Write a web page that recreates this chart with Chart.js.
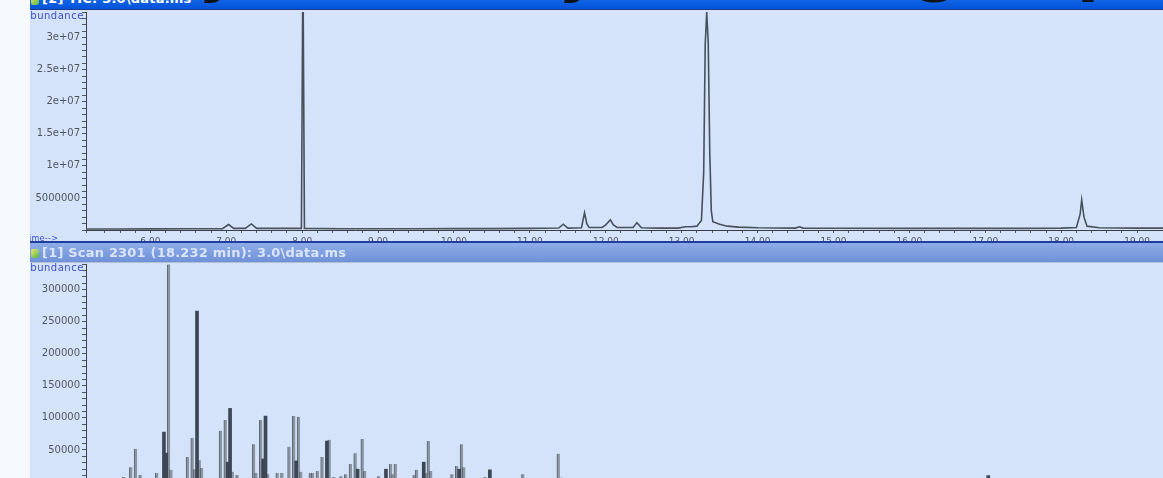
<!DOCTYPE html>
<html lang="en">
<head>
<meta charset="UTF-8" />
<title>TIC: 3.0\data.ms</title>
<script src="https://cdn.jsdelivr.net/npm/chart.js"></script>
<style>
  html, body { margin: 0; padding: 0; width: 1163px; height: 478px; overflow: hidden; background: #f7fafd; font-family: "DejaVu Sans", sans-serif; }
  .glyph { position: absolute; top: -65px; font: bold 64px/1 "DejaVu Sans", sans-serif; color: #111118; z-index: 5; }
  .titlebar { position: absolute; left: 30px; width: 1133px; font-weight: bold; font-size: 13px; letter-spacing: 0.2px; white-space: nowrap; }
  .bar1 { top: -12px; height: 21px; line-height: 21px; background: linear-gradient(#2d7cf0, #0052da); border-bottom: 1px solid #1b3d8a; color: #fff; }
  .bar2 { top: 241px; height: 19px; line-height: 19px; background: linear-gradient(#8eacE8, #6f91d8); border-top: 2px solid #1e3f9f; border-bottom: 1px solid #b4c0d4; color: #dbe5f8; }
  .titlebar span { position: absolute; left: 12px; }
  .icon { position: absolute; left: 1px; top: 6px; width: 8px; height: 9px; background: linear-gradient(135deg, #f2e36a, #4fb84a); border-radius: 2px; }
  .panel { position: absolute; left: 30px; width: 1133px; background: #d4e3fa; overflow: hidden; }
  .panel canvas { position: absolute; left: 0; }
  .axis-note { position: absolute; color: #3a4fcc; font-size: 10px; letter-spacing: 0.5px; white-space: nowrap; }
</style>
</head>
<body>
  <div class="titlebar bar1"><div class="icon" style="top:8px"></div><span>[2] TIC: 3.0\data.ms</span></div>
  <div class="glyph" style="left:198px">y</div>
  <div class="glyph" style="left:558px">y</div>
  <div class="glyph" style="left:915px">g</div>
  <div class="glyph" style="left:1077px">p</div>

  <div class="panel" style="top:10px; height:231px;">
    <canvas id="ticChart" width="1133" height="232" style="top:0"></canvas>
    <div class="axis-note" style="left:-7px; top:0px;">Abundance</div>
    <div class="axis-note" style="left:-6px; top:224px; font-size:8px; letter-spacing:0.3px;">Time--&gt;</div>
  </div>

  <div class="titlebar bar2"><div class="icon"></div><span>[1] Scan 2301 (18.232 min): 3.0\data.ms</span></div>

  <div class="panel" style="top:263px; height:215px;">
    <canvas id="scanChart" width="1133" height="222" style="top:-1px"></canvas>
    <div class="axis-note" style="left:-7px; top:-1px;">Abundance</div>
  </div>

<script>
// total ion chromatogram, retention time in minutes
const ticTime = [5.15, 5.6, 6.0, 6.5, 6.95, 7.03, 7.1, 7.25, 7.33, 7.4, 7.6, 7.99, 8.01, 8.03, 8.5, 9.0, 9.5,
  10.0, 10.5, 11.0, 11.38, 11.44, 11.5, 11.68, 11.72, 11.75, 11.78, 11.95, 12.0, 12.06, 12.1, 12.15,
  12.36, 12.41, 12.47, 12.7, 12.95, 13.05, 13.12, 13.2, 13.26, 13.29, 13.31, 13.33, 13.35, 13.37, 13.39,
  13.41, 13.5, 13.6, 13.75, 14.0, 14.5, 14.55, 14.6, 15.0, 16.0, 17.0, 17.5, 18.0, 18.2, 18.25, 18.27,
  18.3, 18.34, 18.5, 19.0, 19.34];
const ticAbundance = [1.5e5, 1.5e5, 1.8e5, 2.0e5, 2.0e5, 8.5e5, 2.5e5, 2.5e5, 9.5e5, 2.5e5, 2.5e5, 2.5e5, 4.2e7, 2.5e5, 2.0e5, 2.0e5, 2.0e5,
  2.2e5, 2.2e5, 2.5e5, 3.0e5, 9.0e5, 3.0e5, 3.5e5, 2.7e6, 1.0e6, 4.0e5, 4.0e5, 8.0e5, 1.6e6, 8.0e5, 4.0e5,
  4.0e5, 1.15e6, 3.5e5, 3.0e5, 3.0e5, 5.0e5, 5.0e5, 6.0e5, 1.5e6, 9.0e6, 2.9e7, 3.4e7, 2.9e7, 1.2e7, 3.0e6,
  1.3e6, 9.0e5, 6.0e5, 4.5e5, 3.5e5, 3.0e5, 5.0e5, 3.0e5, 2.8e5, 2.5e5, 2.5e5, 2.5e5, 3.0e5, 4.0e5, 2.5e6, 4.7e6,
  2.0e6, 6.0e5, 3.5e5, 3.0e5, 3.0e5];

const timeTickValues = [6, 7, 8, 9, 10, 11, 12, 13, 14, 15, 16, 17, 18, 19];
const timeTickText = ['6.00', '7.00', '8.00', '9.00', '10.00', '11.00', '12.00', '13.00', '14.00', '15.00', '16.00', '17.00', '18.00', '19.00'];
const ticYTickValues = [5e6, 1e7, 1.5e7, 2e7, 2.5e7, 3e7];
const ticYTickText = ['5000000', '1e+07', '1.5e+07', '2e+07', '2.5e+07', '3e+07'];

// mass spectrum of scan 2301 (18.232 min), m/z and abundance
const scanMzLight = [38, 46, 49, 51, 53, 60, 65, 66, 73, 75, 76, 78, 79, 87, 89, 92, 94, 101, 102, 104, 107, 111, 113,
  116, 118, 120, 121, 125, 126, 128, 130, 133, 135, 138, 140, 142, 144, 147, 148, 154, 159, 160, 161, 163, 169, 170,
  174, 175, 176, 185, 187, 189, 190, 199, 202, 205, 213, 215, 216, 227, 230, 256, 286, 368, 396];
const scanAbundanceLight = [3000, 8000, 23000, 52000, 11000, 14000, 340000, 19000, 39000, 69000, 20000, 34000, 22000,
  80000, 97000, 16000, 11000, 59000, 14000, 97000, 12000, 14000, 14000, 55000, 103000, 102000, 16000, 14000, 14000,
  17000, 39000, 66000, 8000, 9000, 12000, 28000, 45000, 67000, 17000, 9000, 28000, 12000, 28000, 4000, 11000, 19000,
  14000, 64000, 17000, 12000, 25000, 59000, 23000, 8000, 4000, 4000, 4000, 12000, 5000, 4000, 44000, 3000, 2000, 3000, 3000];
const scanMzDark = [63, 64, 77, 90, 91, 105, 106, 119, 132, 145, 157, 173, 188, 201, 231, 342, 412];
const scanAbundanceDark = [78000, 45000, 267000, 31000, 115000, 36000, 103000, 33000, 64000, 20000, 20000, 31000,
  20000, 19000, 6000, 5000, 10000];

const scanYTickValues = [50000, 100000, 150000, 200000, 250000, 300000];
const scanYTickText = ['50000', '100000', '150000', '200000', '250000', '300000'];

function lookup(values, text, v, tol) {
  const i = values.findIndex(t => Math.abs(t - v) < tol);
  return i >= 0 ? text[i] : '';
}

const tickColor = '#50565e';
const axisColor = '#3a3f46';

function yAxis(max, step, values, text) {
  return {
    min: 0, max: max,
    afterFit: s => { s.width = 56; s.paddingTop = 0; s.paddingBottom = 0; },
    border: { color: axisColor, width: 1 },
    grid: { drawOnChartArea: false, tickLength: 4, color: tickColor },
    ticks: {
      stepSize: step, autoSkip: false, maxTicksLimit: 200, padding: 2,
      color: tickColor, font: { family: 'DejaVu Sans', size: 10 },
      callback: v => lookup(values, text, v, step / 10)
    }
  };
}

new Chart(document.getElementById('ticChart'), {
  type: 'line',
  data: {
    datasets: [{
      data: ticTime.map((t, i) => ({ x: t, y: ticAbundance[i] })),
      borderColor: '#48505c',
      borderWidth: 1.6,
      pointRadius: 0,
      tension: 0,
      fill: false
    }]
  },
  options: {
    responsive: false, animation: false, devicePixelRatio: 1,
    layout: { padding: { top: 2, right: 0, bottom: 0, left: 0 } },
    plugins: { legend: { display: false }, tooltip: { enabled: false } },
    scales: {
      x: {
        type: 'linear', min: 5.152, max: 19.341,
        afterFit: s => { s.height = 12; s.paddingLeft = 0; s.paddingRight = 0; },
        border: { color: axisColor, width: 1 },
        grid: { drawOnChartArea: false, tickLength: 3, color: tickColor },
        ticks: {
          stepSize: 0.2, autoSkip: false, maxRotation: 0, maxTicksLimit: 200, padding: 3,
          color: tickColor, font: { family: 'DejaVu Sans', size: 9 },
          callback: v => lookup(timeTickValues, timeTickText, v, 1e-6)
        }
      },
      y: yAxis(3.4e7, 1e6, ticYTickValues, ticYTickText)
    }
  }
});

new Chart(document.getElementById('scanChart'), {
  type: 'bar',
  data: {
    datasets: [
      {
        data: scanMzDark.map((m, i) => ({ x: m, y: scanAbundanceDark[i] })),
        backgroundColor: '#3d4654',
        barThickness: 3,
        grouped: false
      },
      {
        data: scanMzLight.map((m, i) => ({ x: m, y: scanAbundanceLight[i] })),
        backgroundColor: '#8b95a1',
        borderColor: '#5b6470',
        borderWidth: { left: 1, right: 0, top: 0, bottom: 0 },
        barThickness: 3,
        grouped: false
      }
    ]
  },
  options: {
    responsive: false, animation: false, devicePixelRatio: 1,
    layout: { padding: { top: 2, right: 0, bottom: 2, left: 0 } },
    plugins: { legend: { display: false }, tooltip: { enabled: false } },
    scales: {
      x: { type: 'linear', min: 30, max: 486, offset: false, display: false },
      y: yAxis(340600, 10000, scanYTickValues, scanYTickText)
    }
  }
});
</script>
</body>
</html>
